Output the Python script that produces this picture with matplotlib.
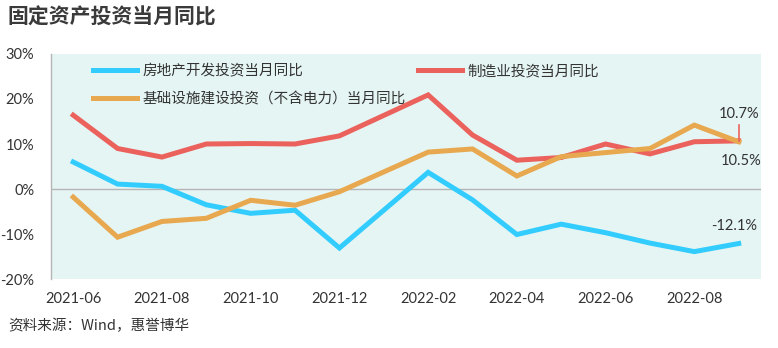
import numpy as np
import matplotlib
matplotlib.use("Agg")
import matplotlib.pyplot as plt

plt.rcParams["font.family"] = ["Lato", "Noto Sans CJK SC", "DejaVu Sans"]

# monthly data, Jan-2022 not published separately (Jan-Feb combined)
months = ["2021-06", "2021-07", "2021-08", "2021-09", "2021-10", "2021-11",
          "2021-12", "2022-02", "2022-03", "2022-04", "2022-05", "2022-06",
          "2022-07", "2022-08", "2022-09"]
real_estate = [6.0, 1.1, 0.6, -3.5, -5.4, -4.7, -13.1, 3.7, -2.4, -10.1,
               -7.8, -9.7, -12.0, -13.9, -12.1]
manufacturing = [16.4, 9.0, 7.1, 10.0, 10.1, 10.0, 11.8, 20.9, 12.0, 6.4,
                 7.0, 10.0, 7.8, 10.5, 10.7]
infrastructure = [-1.8, -10.7, -7.2, -6.5, -2.5, -3.6, -0.6, 8.2, 8.9, 2.9,
                  7.2, 8.1, 9.0, 14.2, 10.5]

tick_months = ["2021-06", "2021-08", "2021-10", "2021-12",
               "2022-02", "2022-04", "2022-06", "2022-08"]
y_ticks = [30, 20, 10, 0, -10, -20]

BLUE = "#33CCFF"
RED = "#EB625D"
ORANGE = "#E8A84F"
BG = "#E5F5F4"
TXT = "#333333"


def month_idx(s):
    y, m = s.split("-")
    return (int(y) - 2021) * 12 + int(m) - 6


x = np.array([month_idx(m) for m in months])

fig = plt.figure(figsize=(7.78, 3.48), dpi=100)
ax = fig.add_axes([0.0656, 0.198, 0.9124, 0.647])
ax.set_facecolor(BG)

lw = 3.6
l1, = ax.plot(x, real_estate, color=BLUE, lw=lw, solid_joinstyle="miter",
              label="房地产开发投资当月同比", zorder=3)
l2, = ax.plot(x, manufacturing, color=RED, lw=lw, solid_joinstyle="miter",
              label="制造业投资当月同比", zorder=3)
l3, = ax.plot(x, infrastructure, color=ORANGE, lw=lw, solid_joinstyle="miter",
              label="基础设施建设投资（不含电力）当月同比", zorder=4)

ax.axhline(0, color="#B5B5B5", lw=1, zorder=2)

ax.set_xlim(-0.5, 15.5)
ax.set_ylim(-20, 30)
ax.set_yticks(y_ticks)
ax.set_yticklabels([f"{v}%" for v in y_ticks])
ax.set_xticks([month_idx(m) for m in tick_months])
ax.set_xticklabels(tick_months)
ax.tick_params(length=0, labelsize=10.5, colors=TXT)
ax.tick_params(axis="y", pad=12)
ax.tick_params(axis="x", pad=9)
for side in ["top", "right", "bottom"]:
    ax.spines[side].set_visible(False)
ax.spines["left"].set_color("#B5B5B5")
ax.spines["left"].set_linewidth(1)

ax.legend(handles=[l1, l3, l2], ncol=2, loc="upper left",
          bbox_to_anchor=(0.041, 1.014), frameon=False, fontsize=10.5,
          handlelength=3.0, handletextpad=0.35, columnspacing=0.9,
          labelspacing=0.95, labelcolor=TXT)

# end-point labels
xe = x[-1]
ax.plot([xe, xe], [manufacturing[-1], 14.3], color=RED, lw=1.2, zorder=5)
ax.text(xe, 15.0, f"{manufacturing[-1]}%", ha="center", va="bottom",
        fontsize=10.5, color=TXT)
ax.text(xe + 0.05, 6.3, f"{infrastructure[-1]}%", ha="center", va="center",
        fontsize=10.5, color=TXT)
ax.text(xe - 0.1, -8.2, f"{real_estate[-1]}%", ha="center", va="center",
        fontsize=10.5, color=TXT)

fig.text(0.01, 0.952, "固定资产投资当月同比", fontsize=15, fontweight="bold",
         color="#3A3A3A", family=["Noto Sans CJK SC"], va="center")
fig.text(0.01, 0.063, "资料来源：Wind，惠誉博华", fontsize=10.5, color=TXT,
         family=["Noto Sans CJK SC", "Lato"], va="center")

fig.savefig("out.png", dpi=100)
